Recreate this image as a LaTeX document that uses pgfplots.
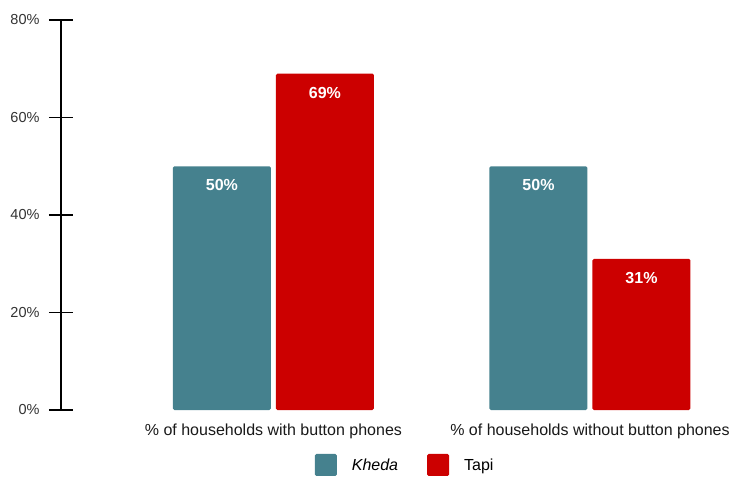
\documentclass[border=0pt]{standalone}
\usepackage{pgfplots}
\pgfplotsset{compat=1.18}
\usepackage{fontspec}
\setmainfont{Liberation Sans}
\definecolor{kheda}{HTML}{45818E}
\definecolor{tapi}{HTML}{CC0000}
\definecolor{lbl}{HTML}{333333}
\begin{document}
\begin{tikzpicture}
\useasboundingbox (-61pt,-67pt) rectangle (668pt,410pt);
\begin{axis}[
  at={(0,0)}, anchor=south west,
  scale only axis, width=667pt, height=390pt,
  xmin=-0.671, xmax=1.436, ymin=0, ymax=80,
  axis x line=bottom, axis y line=left,
  axis line style={-, line width=1.6pt, black},
  x axis line style={draw=none},
  xtick={0,1}, xticklabels={\% of households with button phones, \% of households without button phones},
  xtick style={draw=none},
  xticklabel style={font=\fontsize{16}{18}\selectfont, text=black!90, yshift=14pt},
  ytick={0,20,40,60,80},
  yticklabel={\pgfmathprintnumber{\tick}\%},
  yticklabel style={font=\fontsize{14.5}{16}\selectfont, text=lbl, xshift=-6pt},
  /pgf/number format/assume math mode=true,
  ytick style={line width=1.6pt, black},
  tick align=center, major tick length=24pt,
  ybar=5pt, bar width=98pt,
  nodes near coords={\pgfmathprintnumber{\pgfplotspointmeta}\%},
  every node near coord/.append style={anchor=north, yshift=-10pt, text=white, font=\bfseries\fontsize{16}{18}\selectfont},
  legend columns=2,
  legend style={at={(rel axis cs:0.516,-0.141)}, anchor=center, draw=none, fill=none,
    font=\fontsize{16}{18}\selectfont,
    /tikz/every odd column/.append style={column sep=13pt},
    /tikz/every even column/.append style={column sep=27pt}},
  legend image code/.code={\fill[#1, rounded corners=1.5pt] (0pt,-11pt) rectangle (22pt,11pt);},
  legend cell align=left,
]
\addplot[fill=kheda, draw=none, rounded corners=1.5pt] coordinates {(0,50) (1,50)};
\addplot[fill=tapi, draw=none, rounded corners=1.5pt] coordinates {(0,69) (1,31)};
\legend{\textit{Kheda}, Tapi}
\end{axis}
\end{tikzpicture}
\end{document}
